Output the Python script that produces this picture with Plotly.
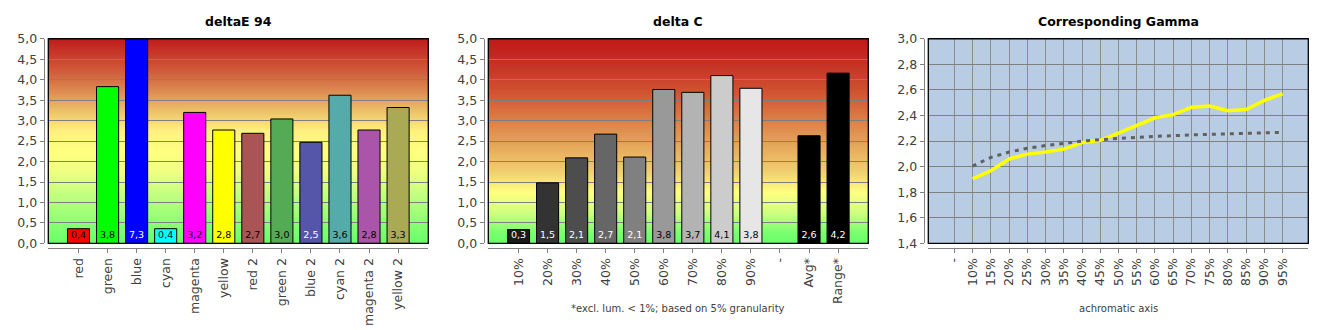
import base64
import struct
import zlib

import plotly.graph_objects as go

# ---------------- data ----------------
de_cats = ["red", "green", "blue", "cyan", "magenta", "yellow",
           "red 2", "green 2", "blue 2", "cyan 2", "magenta 2", "yellow 2"]
de_vals = [0.36, 3.83, 7.3, 0.36, 3.2, 2.77, 2.69, 3.04, 2.47, 3.62, 2.77, 3.32]
de_colors = ["#ff0000", "#00ff00", "#0000ff", "#00ffff", "#ff00ff", "#ffff00",
             "#aa5555", "#55aa55", "#5555aa", "#55aaaa", "#aa55aa", "#aaaa55"]
de_text_colors = ["#000000", "#000000", "#ffffff", "#000000", "#000000", "#000000",
                  "#000000", "#000000", "#ffffff", "#000000", "#000000", "#000000"]

dc_cats = ["10%", "20%", "30%", "40%", "50%", "60%", "70%", "80%", "90%", "-", "Avg*", "Range*"]
dc_vals = [0.34, 1.48, 2.09, 2.67, 2.11, 3.76, 3.69, 4.10, 3.79, None, 2.63, 4.16]
dc_colors = ["#1a1a1a", "#333333", "#4d4d4d", "#666666", "#808080", "#999999",
             "#b3b3b3", "#cccccc", "#e6e6e6", "#000000", "#000000", "#000000"]
dc_text_colors = ["#ffffff", "#ffffff", "#ffffff", "#ffffff", "#ffffff", "#000000",
                  "#000000", "#000000", "#000000", "#ffffff", "#ffffff", "#ffffff"]

g_cats = ["-", "10%", "15%", "20%", "25%", "30%", "35%", "40%", "45%", "50%",
          "55%", "60%", "65%", "70%", "75%", "80%", "85%", "90%", "95%"]
g_measured = [None, 1.905, 1.969, 2.060, 2.098, 2.114, 2.137, 2.188, 2.206, 2.263,
              2.320, 2.382, 2.407, 2.464, 2.474, 2.438, 2.446, 2.518, 2.570]
g_reference = [None, 2.005, 2.072, 2.114, 2.144, 2.165, 2.183, 2.199, 2.211, 2.222,
               2.229, 2.237, 2.245, 2.248, 2.253, 2.258, 2.261, 2.266, 2.268]

de_grad = [(0.0, (104, 255, 104)), (0.25, (120, 255, 112)), (0.75, (160, 255, 120)),
           (1.25, (200, 255, 128)), (1.75, (240, 255, 128)), (2.25, (255, 255, 128)),
           (2.75, (255, 240, 128)), (3.25, (236, 192, 104)), (3.75, (220, 136, 80)),
           (4.25, (208, 88, 56)), (4.75, (198, 48, 38)), (5.0, (192, 28, 28))]
dc_grad = [(0.0, (104, 255, 104)), (0.25, (120, 255, 112)), (0.75, (208, 255, 128)),
           (1.25, (255, 255, 128)), (1.75, (240, 208, 112)), (2.25, (232, 176, 96)),
           (2.75, (224, 144, 80)), (3.25, (216, 112, 64)), (3.75, (208, 80, 48)),
           (4.25, (200, 56, 40)), (4.75, (194, 34, 30)), (5.0, (192, 26, 26))]

# ---------------- helpers ----------------
W, H = 1330, 330
FONT = "DejaVu Sans"
TICK_COL = "#404040"
AX_COL = "#808080"

def fmt(v):
    return "" if v is None else f"{v:.1f}".replace(".", ",")

def interp(stops, v):
    for (a, ca), (b, cb) in zip(stops[:-1], stops[1:]):
        if a <= v <= b:
            t = (v - a) / (b - a)
            return tuple(round(ca[i] + (cb[i] - ca[i]) * t) for i in range(3))
    return stops[-1][1]

def gradient_png(stops, vmax, rows=240):
    colors = [interp(stops, vmax * (1 - (r + 0.5) / rows)) for r in range(rows)]
    raw = b"".join(b"\x00" + bytes(c) * 2 for c in colors)

    def chunk(tag, data):
        return (struct.pack(">I", len(data)) + tag + data
                + struct.pack(">I", zlib.crc32(tag + data) & 0xFFFFFFFF))

    png = (b"\x89PNG\r\n\x1a\n"
           + chunk(b"IHDR", struct.pack(">IIBBBBB", 2, rows, 8, 2, 0, 0, 0))
           + chunk(b"IDAT", zlib.compress(raw))
           + chunk(b"IEND", b""))
    return "data:image/png;base64," + base64.b64encode(png).decode()

def py(px):
    # vertical pixel target -> paper fraction (compensates the observed vertical squeeze)
    corr = 165 + (px - 165) * 1.04
    return 1 - corr / H

fig = go.Figure()

px_l = [48.3, 488.3, 928.3]
px_r = [428.3, 868.3, 1308.3]
top_px, bot_px = 37.3, 243.5
ydom = [py(bot_px), py(top_px)]
xline_pos = py(248.0)

def xd(i):
    return [px_l[i] / W, px_r[i] / W]

# bars chart 1
x1 = list(range(len(de_cats)))
fig.add_trace(go.Bar(x=x1, y=de_vals, marker=dict(color=de_colors, line=dict(color="#000000", width=1)),
                     width=0.76, xaxis="x", yaxis="y", hoverinfo="skip"))
fig.add_trace(go.Scatter(x=x1, y=[0.2] * len(x1), mode="text", text=[fmt(v) for v in de_vals],
                         textfont=dict(family=FONT, size=9.5, color=de_text_colors),
                         xaxis="x", yaxis="y", hoverinfo="skip", cliponaxis=False))
# bars chart 2
x2 = list(range(len(dc_cats)))
fig.add_trace(go.Bar(x=x2, y=dc_vals, marker=dict(color=dc_colors, line=dict(color="#000000", width=1)),
                     width=0.76, xaxis="x2", yaxis="y2", hoverinfo="skip"))
fig.add_trace(go.Scatter(x=x2, y=[0.2] * len(x2), mode="text", text=[fmt(v) for v in dc_vals],
                         textfont=dict(family=FONT, size=9.5, color=dc_text_colors),
                         xaxis="x2", yaxis="y2", hoverinfo="skip", cliponaxis=False))
# gamma chart
x3 = list(range(len(g_cats)))
fig.add_trace(go.Scatter(x=x3, y=g_measured, mode="lines", line=dict(color="#ffff00", width=3.5),
                         xaxis="x3", yaxis="y3", hoverinfo="skip"))
fig.add_trace(go.Scatter(x=x3, y=g_reference, mode="lines",
                         line=dict(color="#606060", width=3, dash="4px,5px"),
                         xaxis="x3", yaxis="y3", hoverinfo="skip"))

# gradient backgrounds (layout images below the gridlines)
images = []
for i, stops in ((0, de_grad), (1, dc_grad)):
    images.append(dict(source=gradient_png(stops, 5.0), xref="paper", yref="paper",
                       x=xd(i)[0], y=ydom[1], sizex=xd(i)[1] - xd(i)[0], sizey=ydom[1] - ydom[0],
                       xanchor="left", yanchor="top", sizing="stretch", layer="below"))

shapes = []
for xr, yr in (("x domain", "y domain"), ("x2 domain", "y2 domain"), ("x3 domain", "y3 domain")):
    shapes.append(dict(type="rect", xref=xr, yref=yr, x0=0, x1=1, y0=0, y1=1,
                       line=dict(color="#000000", width=1.3), fillcolor="rgba(0,0,0,0)", layer="above"))

def xaxis(i, n, cats, grid):
    return dict(domain=xd(i), anchor="free", position=xline_pos,
                range=[-1.04, n - 1 + 1.04] if n == 12 else [-1.43, n - 1 + 1.41],
                tickmode="array", tickvals=list(range(n)), ticktext=cats, tickangle=-90,
                showline=True, linecolor=AX_COL, linewidth=1.2, ticks="outside", ticklen=4, tickcolor=AX_COL,
                tickfont=dict(family=FONT, size=12.5, color=TICK_COL),
                showgrid=grid, gridcolor="#8c8c8c", gridwidth=1, zeroline=False, fixedrange=True)

def yaxis(i, rng, dt):
    return dict(domain=ydom, anchor="free", position=(px_l[i] - 4.6) / W, range=rng, dtick=dt, tick0=rng[0],
                tickformat=".1f", showline=True, linecolor=AX_COL, linewidth=1.2, ticks="outside", ticklen=4,
                tickcolor=AX_COL, tickfont=dict(family=FONT, size=12.5, color=TICK_COL),
                showgrid=True, gridcolor="#808080", gridwidth=1, zeroline=False, fixedrange=True)

annotations = []
titles = ["deltaE 94", "delta C", "Corresponding Gamma"]
for i, t in enumerate(titles):
    annotations.append(dict(text=f"<b>{t}</b>", xref="paper", yref="paper", x=(px_l[i] + px_r[i]) / 2 / W,
                            y=py(20), xanchor="center", yanchor="middle", showarrow=False,
                            font=dict(family=FONT, size=12.5, color="#000000")))
annotations.append(dict(text="*excl. lum. &lt; 1%; based on 5% granularity", xref="paper", yref="paper",
                        x=(px_l[1] + px_r[1]) / 2 / W, y=py(309), xanchor="center", yanchor="middle",
                        showarrow=False, font=dict(family=FONT, size=10, color=TICK_COL)))
annotations.append(dict(text="achromatic axis", xref="paper", yref="paper",
                        x=(px_l[2] + px_r[2]) / 2 / W, y=py(309), xanchor="center", yanchor="middle",
                        showarrow=False, font=dict(family=FONT, size=10, color=TICK_COL)))

fig.update_layout(
    width=W, height=H, margin=dict(l=0, r=0, t=0, b=0), autosize=False,
    paper_bgcolor="#ffffff", plot_bgcolor="#b8cce4", showlegend=False, hovermode=False,
    separators=",.", barmode="overlay",
    xaxis=xaxis(0, 12, de_cats, False),
    xaxis2=xaxis(1, 12, dc_cats, False),
    xaxis3=xaxis(2, 19, g_cats, True),
    yaxis=yaxis(0, [0, 5], 0.5),
    yaxis2=yaxis(1, [0, 5], 0.5),
    yaxis3=yaxis(2, [1.4, 3.0], 0.2),
    shapes=shapes, images=images, annotations=annotations,
)

fig.write_html("out.html", config={"displayModeBar": False, "staticPlot": True},
               post_script="document.body.style.margin='0';document.body.style.overflow='hidden';")
